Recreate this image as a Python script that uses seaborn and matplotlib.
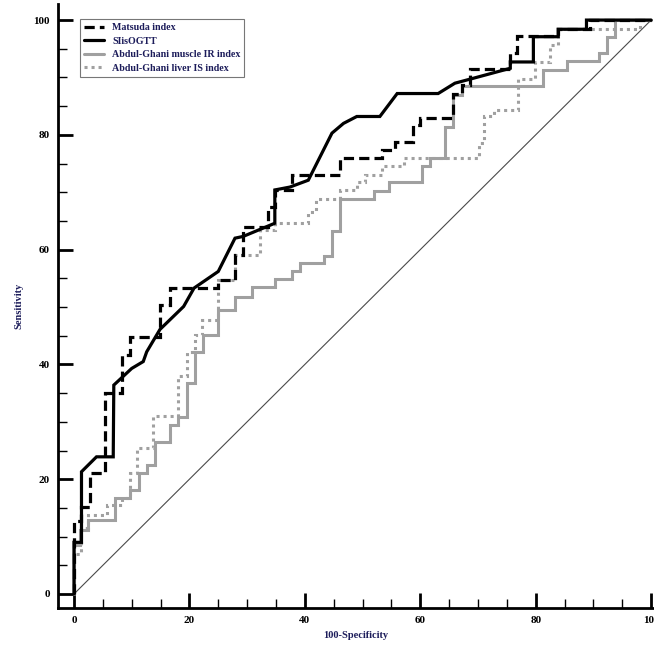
import matplotlib
matplotlib.use("Agg")
import matplotlib.pyplot as plt
import seaborn as sns
import pandas as pd
from matplotlib.ticker import MultipleLocator

# ---- data ----
matsuda_x = [0, 0, 1.3, 1.3, 2.8, 2.8, 5.4, 5.4, 8.3, 8.3, 9.7, 9.7, 14.9, 14.9, 16.6, 16.6,
             25.0, 25.0, 27.9, 27.9, 29.3, 29.3, 33.7, 33.7, 34.8, 34.8, 37.7, 37.7, 46.1, 46.1,
             53.3, 53.3, 55.6, 55.6, 58.8, 58.8, 60.0, 60.0, 65.6, 65.6, 67.2, 67.2, 68.6, 68.6,
             75.6, 75.6, 76.7, 76.7, 83.9, 83.9, 89.4, 89.4, 100]
matsuda_y = [0, 12.7, 12.7, 15.2, 15.2, 21.0, 21.0, 35.0, 35.0, 41.6, 41.6, 44.8, 44.8, 50.3, 50.3, 53.3,
             53.3, 54.7, 54.7, 59.1, 59.1, 64.0, 64.0, 67.5, 67.5, 70.4, 70.4, 73.0, 73.0, 75.9,
             75.9, 77.4, 77.4, 78.8, 78.8, 81.7, 81.7, 83.0, 83.0, 87.2, 87.2, 88.7, 88.7, 91.4,
             91.4, 94.3, 94.3, 97.2, 97.2, 98.4, 98.4, 100, 100]

siis_x = [0, 0, 1.3, 1.3, 3.9, 6.8, 6.9, 10.0, 12.0, 12.6, 14.9, 19.0, 20.8, 25.0, 27.9, 29.3,
          34.8, 34.8, 37.4, 40.6, 44.7, 46.7, 49.0, 53.0, 56.0, 63.1, 66.0, 68.6, 75.6, 75.6,
          79.6, 79.6, 83.9, 83.9, 88.8, 88.8, 100]
siis_y = [0, 9.0, 9.0, 21.3, 23.9, 23.9, 36.4, 39.3, 40.5, 42.2, 46.1, 50.1, 53.3, 56.2, 62.0, 62.3,
          64.6, 70.4, 70.9, 72.1, 80.3, 82.0, 83.2, 83.2, 87.2, 87.2, 89.0, 89.7, 91.6, 92.7,
          92.7, 97.1, 97.1, 98.4, 98.4, 100, 100]

muscle_x = [0, 0, 1.0, 1.0, 2.5, 2.5, 7.1, 7.1, 9.7, 9.7, 11.2, 11.2, 12.6, 12.6, 14.0, 14.0,
            16.6, 16.6, 18.0, 18.0, 19.5, 19.5, 21.0, 21.0, 22.4, 22.4, 25.0, 25.0, 27.9, 27.9,
            30.8, 30.8, 34.8, 34.8, 37.7, 37.7, 39.2, 39.2, 43.3, 43.3, 44.7, 44.7, 46.1, 46.1,
            51.9, 51.9, 54.6, 54.6, 60.3, 60.3, 61.7, 61.7, 64.3, 64.3, 65.7, 65.7, 67.2, 67.2,
            81.3, 81.3, 85.4, 85.4, 90.9, 90.9, 92.3, 92.3, 93.8, 93.8, 100]
muscle_y = [0, 8.5, 8.5, 11.1, 11.1, 12.9, 12.9, 16.7, 16.7, 18.1, 18.1, 21.0, 21.0, 22.5, 22.5, 26.5,
            26.5, 29.4, 29.4, 30.9, 30.9, 36.7, 36.7, 42.2, 42.2, 45.1, 45.1, 49.5, 49.5, 51.8,
            51.8, 53.5, 53.5, 54.8, 54.8, 56.3, 56.3, 57.7, 57.7, 58.9, 58.9, 63.3, 63.3, 68.9,
            68.9, 70.3, 70.3, 71.7, 71.7, 74.6, 74.6, 76.0, 76.0, 81.4, 81.4, 86.9, 86.9, 88.5,
            88.5, 91.3, 91.3, 92.9, 92.9, 94.3, 94.3, 97.1, 97.1, 100, 100]

liver_x = [0, 0, 1.2, 1.2, 2.5, 2.5, 5.7, 5.7, 8.3, 8.3, 9.7, 9.7, 11.0, 11.0, 13.7, 13.7,
           18.1, 18.1, 19.6, 19.6, 21.0, 21.0, 22.1, 22.1, 25.0, 25.0, 27.9, 27.9, 32.2, 32.2,
           34.8, 34.8, 40.6, 40.6, 41.9, 41.9, 46.1, 46.1, 49.0, 49.0, 50.4, 50.4, 53.3, 53.3,
           57.1, 57.1, 70.1, 70.1, 71.0, 71.0, 72.7, 72.7, 77.0, 77.0, 79.9, 79.9, 82.5, 82.5,
           83.9, 83.9, 98.1, 98.1, 100]
liver_y = [0, 7.0, 7.0, 11.5, 11.5, 13.8, 13.8, 15.5, 15.5, 16.7, 16.7, 21.0, 21.0, 25.4, 25.4, 31.0,
           31.0, 37.9, 37.9, 42.2, 42.2, 45.1, 45.1, 47.7, 47.7, 54.7, 54.7, 59.1, 59.1, 63.4,
           63.4, 64.6, 64.6, 66.5, 66.5, 68.9, 68.9, 70.4, 70.4, 71.8, 71.8, 73.0, 73.0, 74.6,
           74.6, 76.0, 76.0, 78.5, 78.5, 83.2, 83.2, 84.4, 84.4, 89.8, 89.8, 92.7, 92.7, 95.6,
           95.6, 98.4, 98.4, 100, 100]

ref_x = [0, 100]
ref_y = [0, 100]

series_names = ["Matsuda index", "SIisOGTT",
                "Abdul-Ghani muscle IR index", "Abdul-Ghani liver IS index"]
x_ticks = [0, 20, 40, 60, 80, 100]
y_ticks = [0, 20, 40, 60, 80, 100]
x_label = "100-Specificity"
y_label = "Sensitivity"

# ---- styling ----
sns.set_theme(style="ticks")
plt.rcParams["font.family"] = ["Liberation Serif", "DejaVu Serif"]
navy = "#1c1c5a"
gray = "#a0a0a0"

fig = plt.figure(figsize=(6.54, 6.47), dpi=100)
ax = fig.add_axes([58 / 654, 39 / 647, 596 / 654, 604 / 647])

# diagonal reference
sns.lineplot(x=ref_x, y=ref_y, ax=ax, color="#4a4a4a", linewidth=0.8,
             estimator=None, sort=False, legend=False)

curves = [
    (liver_x, liver_y, series_names[3], gray, (0, (1, 1.3)), 2.2),
    (muscle_x, muscle_y, series_names[2], gray, "-", 2.2),
    (matsuda_x, matsuda_y, series_names[0], "black", (0, (3.2, 1.6)), 2.3),
    (siis_x, siis_y, series_names[1], "black", "-", 2.3),
]
handles = {}
for xs, ys, name, col, ls, lw in curves:
    df = pd.DataFrame({"x": xs, "y": ys})
    sns.lineplot(data=df, x="x", y="y", ax=ax, color=col, linewidth=lw,
                 estimator=None, sort=False, legend=False)
    line = ax.lines[-1]
    line.set_linestyle(ls)
    line.set_solid_joinstyle("miter")
    line.set_dash_joinstyle("miter")
    handles[name] = line

ax.set_xlim(-2.77, 100.5)
ax.set_ylim(-2.44, 102.8)
ax.set_xticks(x_ticks)
ax.set_yticks(y_ticks)
ax.xaxis.set_minor_locator(MultipleLocator(5))
ax.yaxis.set_minor_locator(MultipleLocator(5))
ax.tick_params(which="major", direction="in", length=10.5, width=2.0, colors="black",
               labelsize=8, pad=6)
ax.tick_params(which="minor", direction="in", length=6.5, width=1.0, colors="black")
for lab in ax.get_xticklabels() + ax.get_yticklabels():
    lab.set_fontweight("bold")

for s in ["top", "right"]:
    ax.spines[s].set_visible(False)
for s in ["left", "bottom"]:
    ax.spines[s].set_linewidth(2.0)
    ax.spines[s].set_color("black")

ax.set_xlabel(x_label, fontsize=7.5, fontweight="bold", color=navy, labelpad=4)
ax.set_ylabel(y_label, fontsize=7.5, fontweight="bold", color=navy, labelpad=7)
ax.grid(False)

leg = ax.legend([handles[n] for n in series_names], series_names,
                loc="upper left", bbox_to_anchor=(0.037, 0.975), frameon=True,
                fancybox=False, edgecolor="#555555", fontsize=7.2,
                handlelength=2.0, handletextpad=0.8, labelspacing=0.45,
                borderpad=0.4, borderaxespad=0)
leg.get_frame().set_linewidth(0.8)
for t in leg.get_texts():
    t.set_color(navy)
    t.set_fontweight("bold")

fig.savefig("out.png", dpi=100)
